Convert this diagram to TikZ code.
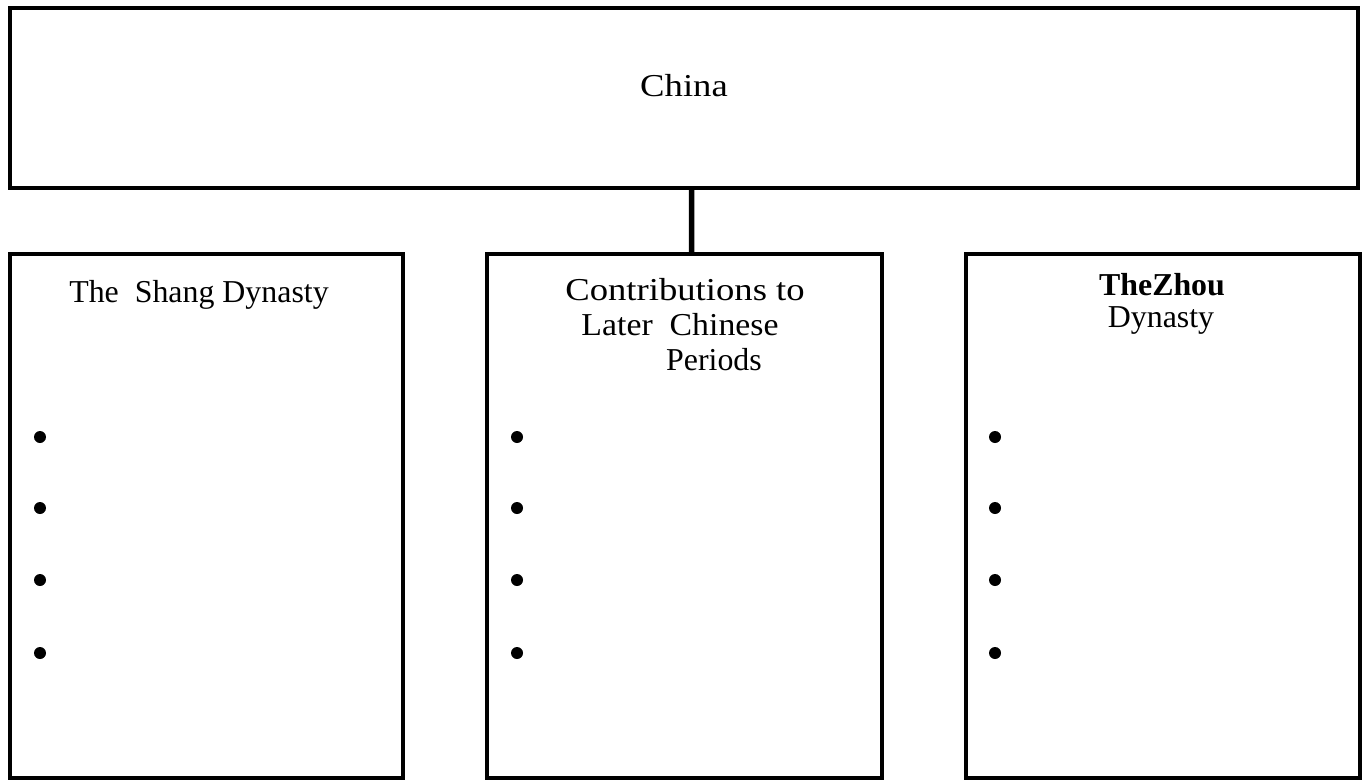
\documentclass[tikz,border=0pt]{standalone}
\usepackage{fontspec}
\setmainfont{Liberation Serif}
\begin{document}
\begin{tikzpicture}[x=1bp,y=-1bp,
  box/.style={draw=black, line width=4bp, inner sep=0pt, outer sep=0pt, rectangle},
  lbl/.style={anchor=base, inner sep=0pt, font=\fontsize{32}{36}\selectfont},
  bul/.style={circle, fill=black, minimum size=12bp, inner sep=0pt}]
\useasboundingbox (0,0) rectangle (1366,780);
\node[box, minimum width=1348bp, minimum height=180bp] (china) at (684,98) {};
\node[box, minimum width=393bp, minimum height=524bp] (shang) at (206.5,516) {};
\node[box, minimum width=395bp, minimum height=524bp] (contrib) at (684.5,516) {};
\node[box, minimum width=394bp, minimum height=524bp] (zhou) at (1163,516) {};
\draw[line width=5.5bp] ([xshift=7.5bp]china.south) -- ([xshift=7bp]contrib.north);
\node[lbl] (tchina) at (684,96) {\scalebox{1.15}[1]{China}};
\node[lbl] (tshang) at (199,302) {The\ \ Shang\ Dynasty};
\node[lbl] (tc1) at (685,300) {\scalebox{1.15}[1]{Contributions to}};
\node[lbl] (tc2) at (680,335) {\scalebox{1.06}[1]{Later\ \ Chinese}};
\node[lbl] (tc3) at (714,370) {Periods};
\node[lbl, font=\fontsize{32}{36}\selectfont\bfseries] (tz1) at (1162,295) {TheZhou};
\node[lbl] (tz2) at (1161,327) {Dynasty};
\foreach \bx/\nm in {40/a,517/b,995/c}{
  \foreach \by/\k in {437/1,508/2,580/3,653/4}{
    \node[bul] (b\nm\k) at (\bx,\by) {};
  }
}
\end{tikzpicture}
\end{document}
